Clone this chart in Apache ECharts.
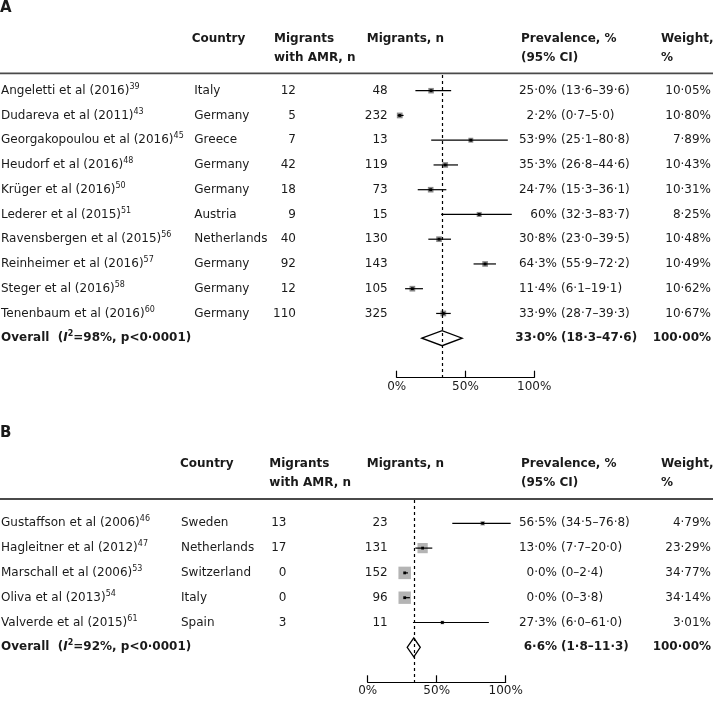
<!DOCTYPE html>
<html><head><meta charset="utf-8">
<script src="https://cdn.jsdelivr.net/npm/echarts@6/dist/echarts.min.js"></script>
<style>html,body{margin:0;padding:0;background:#fff}#c{width:713px;height:705px}</style>
</head><body><div id="c"></div>
<script>
// ---------- Panel A data ----------
const studiesA = ['Angeletti et al (2016)','Dudareva et al (2011)','Georgakopoulou et al (2016)','Heudorf et al (2016)','Krüger et al (2016)','Lederer et al (2015)','Ravensbergen et al (2015)','Reinheimer et al (2016)','Steger et al (2016)','Tenenbaum et al (2016)'];
const refsA = ['39','43','45','48','50','51','56','57','58','60'];
const countriesA = ['Italy','Germany','Greece','Germany','Germany','Austria','Netherlands','Germany','Germany','Germany'];
const amrA = [12,5,7,42,18,9,40,92,12,110];
const nA = [48,232,13,119,73,15,130,143,105,325];
const estA = [25.0,2.2,53.9,35.3,24.7,60,30.8,64.3,11.4,33.9];
const loA = [13.6,0.7,25.1,26.8,15.3,32.3,23.0,55.9,6.1,28.7];
const hiA = [39.6,5.0,80.8,44.6,36.1,83.7,39.5,72.2,19.1,39.3];
const weightA = [10.05,10.80,7.89,10.43,10.31,8.25,10.48,10.49,10.62,10.67];
const prevLabelA = ['25·0%','2·2%','53·9%','35·3%','24·7%','60%','30·8%','64·3%','11·4%','33·9%'];
const ciLabelA = ['(13·6–39·6)','(0·7–5·0)','(25·1–80·8)','(26·8–44·6)','(15·3–36·1)','(32·3–83·7)','(23·0–39·5)','(55·9–72·2)','(6·1–19·1)','(28·7–39·3)'];
const overallA = [33.0,18.3,47.6];
const overallLabelA = ['33·0%','(18·3–47·6)','98%'];

// ---------- Panel B data ----------
const studiesB = ['Gustaffson et al (2006)','Hagleitner et al (2012)','Marschall et al (2006)','Oliva et al (2013)','Valverde et al (2015)'];
const refsB = ['46','47','53','54','61'];
const countriesB = ['Sweden','Netherlands','Switzerland','Italy','Spain'];
const amrB = [13,17,0,0,3];
const nB = [23,131,152,96,11];
const estB = [56.5,13.0,0.0,0.0,27.3];
const loB = [34.5,7.7,0,0,6.0];
const hiB = [76.8,20.0,2.4,3.8,61.0];
const weightB = [4.79,23.29,34.77,34.14,3.01];
const prevLabelB = ['56·5%','13·0%','0·0%','0·0%','27·3%'];
const ciLabelB = ['(34·5–76·8)','(7·7–20·0)','(0–2·4)','(0–3·8)','(6·0–61·0)'];
const overallB = [6.6,1.8,11.3];
const overallLabelB = ['6·6%','(1·8–11·3)','92%'];

const axisTicks = [0,50,100];

// ---------- layout ----------
const FONT = 'DejaVu Sans';
const INK = '#1a1a1a';
const panels = [
  {studies:studiesA, refs:refsA, countries:countriesA, amr:amrA, n:nA, est:estA, lo:loA, hi:hiA, w:weightA,
   prev:prevLabelA, ci:ciLabelA, overall:overallA, overallLabel:overallLabelA,
   row0:90.7, step:24.75, top:75, axisY:377.7, left:396.7, width:137.5, shift:0,
   colCountry:194.3, colAmr:296, boxK:1.75, boxColor:'#8a8a8a',
   headY:39, letter:'A', letterY:8, ruleY:73.3, headCountry:191.7, headAmr:274},
  {studies:studiesB, refs:refsB, countries:countriesB, amr:amrB, n:nB, est:estB, lo:loB, hi:hiB, w:weightB,
   prev:prevLabelB, ci:ciLabelB, overall:overallB, overallLabel:overallLabelB,
   row0:523.3, step:24.8, top:500, axisY:682.3, left:367.7, width:138, shift:26.8,
   colCountry:181, colAmr:286.5, boxK:2.12, boxColor:'#b4b4b4',
   headY:464, letter:'B', letterY:433, ruleY:499, headCountry:180, headAmr:269.3}
];
const colN = 387.7, colPrev = 557, colCi = 561, colW = 711;

function fmtW(v){ return v.toFixed(2).replace('.','·') + '%'; }
function T(x, y, text, o){
  return {type:'text', x:x, y:y, silent:true,
    style:Object.assign({text:text, fill:INK, fontFamily:FONT, fontSize:12, fontWeight:'normal',
      align:'left', verticalAlign:'middle', textAlign:'left', textVerticalAlign:'middle'}, o||{})};
}
const R = (o)=>Object.assign({align:'right', textAlign:'right'}, o||{});
const B = (o)=>Object.assign({fontWeight:'bold'}, o||{});

const grid = [], xAxis = [], yAxis = [], series = [], graphic = [];
panels.forEach((P, k)=>{
  grid.push({left:P.left, width:P.width, top:P.top, height:P.axisY - P.top, containLabel:false});
  const axisStyle = {
    axisLine:{show:true, onZero:false, lineStyle:{color:'#000', width:1.2}},
    axisTick:{show:true, inside:true, length:7, lineStyle:{color:'#000', width:1.2}},
    axisLabel:{formatter:'{value}%', fontFamily:FONT, fontSize:12, color:INK, margin:3},
    splitLine:{show:false}
  };
  const visX = xAxis.length;
  xAxis.push(Object.assign({type:'value', gridIndex:k, min:axisTicks[0], max:axisTicks[2], interval:axisTicks[1]-axisTicks[0], position:'bottom'}, axisStyle));
  const dataX = xAxis.length;
  xAxis.push({type:'value', gridIndex:k, min:axisTicks[0]-P.shift, max:axisTicks[2]-P.shift, show:false});
  const yi = yAxis.length;
  yAxis.push({type:'value', gridIndex:k, inverse:true, show:false,
    min:(P.top - P.row0)/P.step, max:(P.axisY - P.row0)/P.step});
  const nRows = P.studies.length;

  // table text
  const tData = []; for (let i=0;i<=nRows;i++) tData.push([0,i]);
  series.push({type:'custom', xAxisIndex:visX, yAxisIndex:yi, clip:false, silent:true, z:5,
    data:tData, encode:{x:0, y:1},
    renderItem:(params, api)=>{
      const i = params.dataIndex;
      const y = api.coord([0, i])[1];
      const ch = [];
      if (i < nRows) {
        ch.push({type:'text', x:1, y:y, silent:true, style:{
          text:'{a|'+P.studies[i]+'}{s|'+P.refs[i]+'}', align:'left', verticalAlign:'middle',
          textAlign:'left', textVerticalAlign:'middle',
          rich:{a:{fontFamily:FONT, fontSize:12, fill:INK, color:INK, lineHeight:16},
                s:{fontFamily:FONT, fontSize:8, fill:INK, color:INK, lineHeight:10, verticalAlign:'top'}}}});
        ch.push(T(P.colCountry, y, P.countries[i]));
        ch.push(T(P.colAmr, y, String(P.amr[i]), R()));
        ch.push(T(colN, y, String(P.n[i]), R()));
        ch.push(T(colPrev, y, P.prev[i], R()));
        ch.push(T(colCi, y, P.ci[i]));
        ch.push(T(colW, y, fmtW(P.w[i]), R()));
      } else {
        ch.push({type:'text', x:1, y:y, silent:true, style:{
          text:'{b|Overall  (}{bi|I}{bs|2}{b|='+P.overallLabel[2]+', p<0·0001)}', align:'left', verticalAlign:'middle',
          textAlign:'left', textVerticalAlign:'middle',
          rich:{b:{fontFamily:FONT, fontSize:12, fontWeight:'bold', fill:INK, color:INK, lineHeight:16},
                bi:{fontFamily:FONT, fontSize:12, fontWeight:'bold', fontStyle:'italic', fill:INK, color:INK, lineHeight:16},
                bs:{fontFamily:FONT, fontSize:8, fontWeight:'bold', fill:INK, color:INK, lineHeight:10, verticalAlign:'top'}}}});
        ch.push(T(colPrev, y, P.overallLabel[0], R(B())));
        ch.push(T(colCi, y, P.overallLabel[1], B()));
        const tot = P.w.reduce((a,b)=>a+b,0);
        ch.push(T(colW, y, fmtW(Math.round(tot)), R(B())));
      }
      return {type:'group', children:ch};
    }
  });

  // study markers
  series.push({type:'custom', xAxisIndex:dataX, yAxisIndex:yi, clip:false, silent:true, z:3,
    data:P.studies.map((_, i)=>[i, P.est[i], P.lo[i], P.hi[i], P.w[i]]),
    encode:{y:0, x:[1,2,3]},
    renderItem:(params, api)=>{
      const row = api.value(0);
      const c = api.coord([api.value(1), row]);
      const l = api.coord([api.value(2), row]);
      const h = api.coord([api.value(3), row]);
      const s = P.boxK*Math.sqrt(api.value(4));
      return {type:'group', children:[
        {type:'rect', shape:{x:c[0]-s/2, y:c[1]-s/2, width:s, height:s}, style:{fill:P.boxColor}},
        {type:'line', shape:{x1:l[0], y1:c[1], x2:h[0], y2:c[1]}, style:{stroke:'#000', lineWidth:1.2}},
        {type:'rect', shape:{x:c[0]-1.4, y:c[1]-1.4, width:2.8, height:2.8}, style:{fill:'#000'}}
      ]};
    }
  });

  // overall diamond + dashed line
  const dh = k === 0 ? 7.5 : 9.5;
  series.push({type:'custom', xAxisIndex:dataX, yAxisIndex:yi, clip:false, silent:true, z:3,
    data:[[nRows, P.overall[0], P.overall[1], P.overall[2]]],
    encode:{y:0, x:[1,2,3]},
    renderItem:(params, api)=>{
      const row = api.value(0);
      const c = api.coord([api.value(1), row]);
      const l = api.coord([api.value(2), row]);
      const h = api.coord([api.value(3), row]);
      return {type:'polygon', shape:{points:[[l[0],c[1]],[c[0],c[1]-dh],[h[0],c[1]],[c[0],c[1]+dh]]},
        style:{fill:'none', stroke:'#000', lineWidth:1.3}};
    },
    markLine:{silent:true, symbol:'none', animation:false, label:{show:false},
      lineStyle:{type:[3,3], color:'#000', width:1.2},
      data:[{xAxis:P.overall[0]}]}
  });

  // headers
  graphic.push(T(0, P.letterY, P.letter, B({fontSize:15})));
  const h1 = P.headY, h2 = P.headY + 18.7;
  graphic.push(T(P.headCountry, h1, 'Country', B()));
  graphic.push(T(P.headAmr, h1, 'Migrants', B()));
  graphic.push(T(P.headAmr, h2, 'with AMR, n', B()));
  graphic.push(T(366.7, h1, 'Migrants, n', B()));
  graphic.push(T(521, h1, 'Prevalence, %', B()));
  graphic.push(T(521, h2, '(95% CI)', B()));
  graphic.push(T(661, h1, 'Weight,', B()));
  graphic.push(T(661, h2, '%', B()));
  graphic.push({type:'line', silent:true, shape:{x1:0, y1:P.ruleY, x2:713, y2:P.ruleY}, style:{stroke:'#4a4a4a', lineWidth:1.8}});
});

const chart = echarts.init(document.getElementById('c'), null, {renderer:'canvas'});
chart.setOption({animation:false, backgroundColor:'#fff', grid, xAxis, yAxis, series, graphic});
</script>
</body></html>
